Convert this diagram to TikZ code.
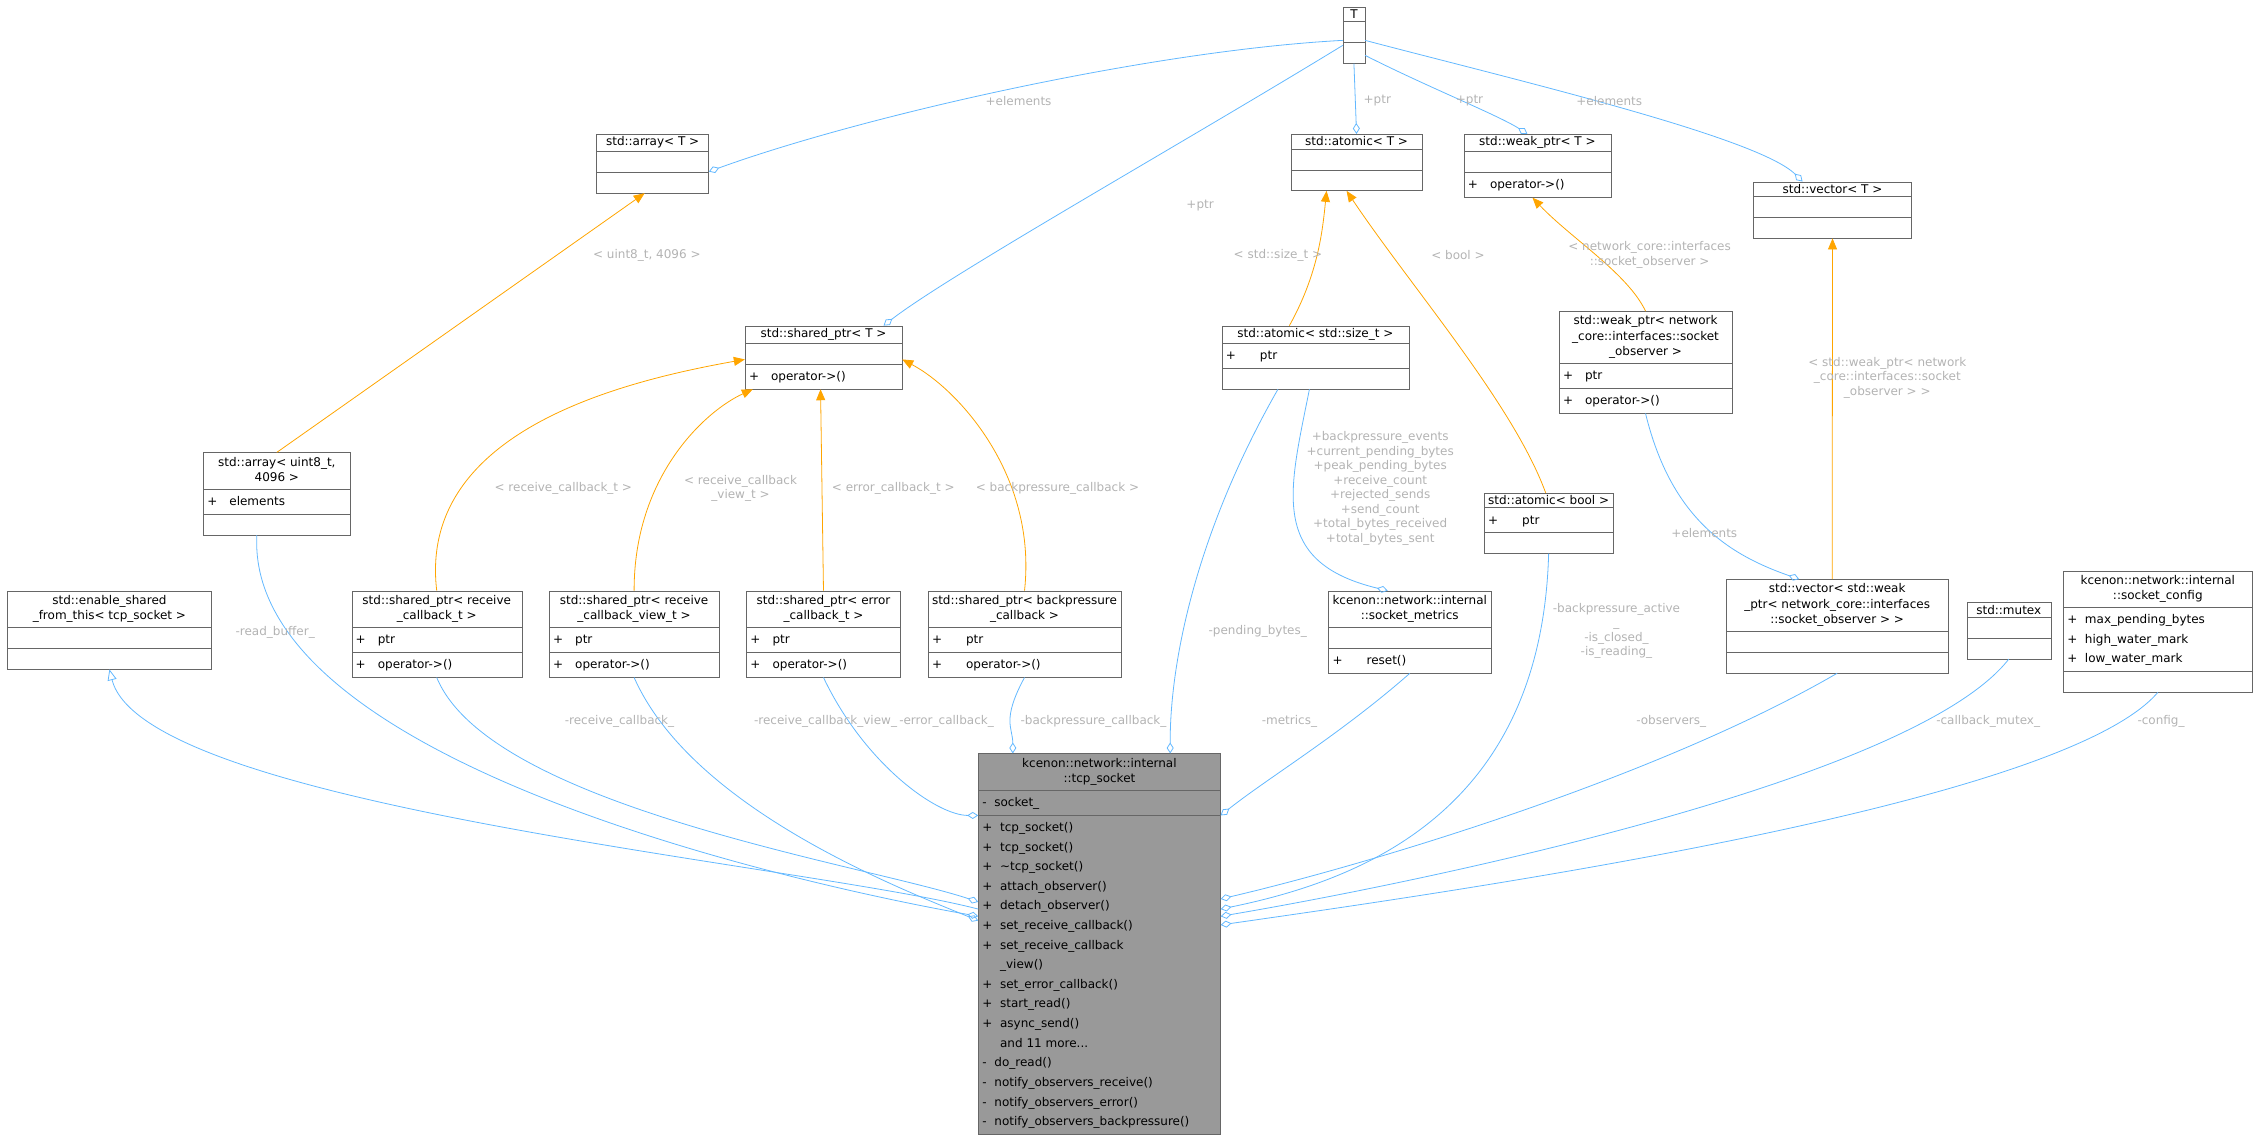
\documentclass[tikz,border=0pt]{standalone}
\usepackage{fontspec}
\setmainfont{DejaVu Sans}
\usetikzlibrary{shapes.multipart,arrows.meta,calc}

\definecolor{edgeblue}{HTML}{63B8FF}
\definecolor{boxline}{HTML}{666666}
\definecolor{lblgray}{HTML}{B3B3B3}
\definecolor{mainfill}{HTML}{999999}
\definecolor{tmplorange}{HTML}{FFA500}

% header and member rows of a class box
\newcommand{\hd}[1]{\begin{tabular}{@{}c@{}}#1\end{tabular}}
\newcommand{\mb}[1]{{\renewcommand\arraystretch{1.265}\begin{tabular}{@{}l@{}}#1\end{tabular}}}

\tikzset{
  cls/.style={draw=boxline, fill=white, rectangle split, rectangle split parts=3,
    rectangle split part align={center,left,left}, anchor=north west,
    inner xsep=4pt, inner ysep=2.5pt, font=\fontsize{12}{15.5}\selectfont},
  mainbox/.style={cls, fill=mainfill},
  lbl/.style={text=lblgray, align=center, font=\fontsize{12}{14.5}\selectfont},
  usage/.style={draw=edgeblue, thick, -{Diamond[open, length=11pt, width=7pt]}},
  inherit/.style={draw=edgeblue, thick, {Triangle[open, length=11pt, width=9pt]}-},
  tmpl/.style={draw=tmplorange, thick, -{Triangle[length=11pt, width=9pt]}}
}

\begin{document}
\begin{tikzpicture}[x=1.4407pt, y=-1.4407pt]
\useasboundingbox (0,0) rectangle (1568,788);

% templates
\node[cls, minimum width=22pt] (T) at (932,5) {T \nodepart{two}\strut \nodepart{three}\strut};
\node[cls, minimum width=112pt] (arr) at (414,93) {std::array< T > \nodepart{two}\strut \nodepart{three}\strut};
\node[cls, minimum width=131pt] (atomT) at (896,93) {std::atomic< T > \nodepart{two}\strut \nodepart{three}\strut};
\node[cls, minimum width=147pt] (weakT) at (1016,93) {std::weak\_ptr< T > \nodepart{two}\strut \nodepart{three}\mb{+\quad operator->()}};
\node[cls, minimum width=158pt] (vecT) at (1217,126) {std::vector< T > \nodepart{two}\strut \nodepart{three}\strut};
\node[cls, minimum width=157pt] (shT) at (517,226) {std::shared\_ptr< T > \nodepart{two}\strut \nodepart{three}\mb{+\quad operator->()}};

% instances
\node[cls, minimum width=187pt] (atomSz) at (848,226) {std::atomic< std::size\_t > \nodepart{two}\mb{+\qquad ptr} \nodepart{three}\strut};
\node[cls, minimum width=173pt] (weakObs) at (1082,216) {\hd{std::weak\_ptr< network\\\_core::interfaces::socket\\\_observer >} \nodepart{two}\mb{+\quad ptr} \nodepart{three}\mb{+\quad operator->()}};
\node[cls, minimum width=147pt] (arr4096) at (141,314) {\hd{std::array< uint8\_t,\\4096 >} \nodepart{two}\mb{+\quad elements} \nodepart{three}\strut};
\node[cls, minimum width=125pt] (atomBool) at (1030,342) {std::atomic< bool > \nodepart{two}\mb{+\qquad ptr} \nodepart{three}\strut};
\node[cls, minimum width=204pt] (esft) at (5,410) {\hd{std::enable\_shared\\\_from\_this< tcp\_socket >} \nodepart{two}\strut \nodepart{three}\strut};
\node[cls, minimum width=170pt] (shRecv) at (244,410) {\hd{std::shared\_ptr< receive\\\_callback\_t >} \nodepart{two}\mb{+\quad ptr} \nodepart{three}\mb{+\quad operator->()}};
\node[cls, minimum width=170pt] (shRecvView) at (381,410) {\hd{std::shared\_ptr< receive\\\_callback\_view\_t >} \nodepart{two}\mb{+\quad ptr} \nodepart{three}\mb{+\quad operator->()}};
\node[cls, minimum width=154pt] (shErr) at (518,410) {\hd{std::shared\_ptr< error\\\_callback\_t >} \nodepart{two}\mb{+\quad ptr} \nodepart{three}\mb{+\quad operator->()}};
\node[cls, minimum width=176pt] (shBp) at (644,410) {\hd{std::shared\_ptr< backpressure\\\_callback >} \nodepart{two}\mb{+\qquad ptr} \nodepart{three}\mb{+\qquad operator->()}};
\node[cls, minimum width=140pt] (metrics) at (922,410) {\hd{kcenon::network::internal\\::socket\_metrics} \nodepart{two}\strut \nodepart{three}\mb{+\qquad reset()}};
\node[cls, minimum width=222pt] (vecObs) at (1198,402) {\hd{std::vector< std::weak\\\_ptr< network\_core::interfaces\\::socket\_observer > >} \nodepart{two}\strut \nodepart{three}\strut};
\node[cls, minimum width=84pt] (mutex) at (1365,418) {std::mutex \nodepart{two}\strut \nodepart{three}\strut};
\node[cls, minimum width=189pt] (config) at (1432,396) {\hd{kcenon::network::internal\\::socket\_config} \nodepart{two}\mb{+\ \ max\_pending\_bytes\\+\ \ high\_water\_mark\\+\ \ low\_water\_mark} \nodepart{three}\strut};

% main class
\node[mainbox, minimum width=242pt] (sock) at (679,523) {\hd{kcenon::network::internal\\::tcp\_socket}
  \nodepart{two}\mb{-\ \ socket\_}
  \nodepart{three}\mb{+\ \ tcp\_socket()\\+\ \ tcp\_socket()\\+\ \ \textasciitilde tcp\_socket()\\+\ \ attach\_observer()\\+\ \ detach\_observer()\\+\ \ set\_receive\_callback()\\+\ \ set\_receive\_callback\\\phantom{+\ \ }\_view()\\+\ \ set\_error\_callback()\\+\ \ start\_read()\\+\ \ async\_send()\\\phantom{+\ \ }and 11 more...\\-\ \ do\_read()\\-\ \ notify\_observers\_receive()\\-\ \ notify\_observers\_error()\\-\ \ notify\_observers\_backpressure()}};

% T members
\draw[usage] ([yshift=-5pt]T.west) .. controls (800,35) and (600,80) .. ([yshift=-8pt]arr.east);
\draw[usage] ([yshift=-10pt]T.west) .. controls (820,100) and (660,190) .. ([xshift=60pt]shT.north);
\draw[usage] (T.south) -- (atomT.north);
\draw[usage] ([yshift=-20pt]T.east) .. controls (990,60) and (1040,80) .. ([xshift=-10pt]weakT.north);
\draw[usage] ([yshift=-5pt]T.east) .. controls (1050,55) and (1220,95) .. ([xshift=-30pt]vecT.north);
\node[lbl] (lElem1) at (707,70) {+elements};
\node[lbl] (lPtr1) at (833,143) {+ptr};
\node[lbl] (lPtr2) at (956,70) {+ptr};
\node[lbl] (lPtr3) at (1020,70) {+ptr};
\node[lbl] (lElem2) at (1117,70) {+elements};

% template instances
\draw[tmpl] (arr4096.north) -- ([xshift=-8pt]arr.south);
\draw[tmpl] ([xshift=-26pt]atomSz.north) .. controls (915,190) and (918,160) .. ([xshift=-30pt]atomT.south);
\draw[tmpl] ([xshift=-3pt]atomBool.north) .. controls (1050,280) and (980,200) .. ([xshift=-10pt]atomT.south);
\draw[tmpl] (weakObs.north) .. controls (1130,190) and (1090,165) .. ([xshift=-5pt]weakT.south);
\draw[tmpl] ([xshift=-5pt]vecObs.north) -- (vecT.south);
\draw[tmpl] (shRecv.north) .. controls (290,300) and (430,265) .. ([yshift=-2pt]shT.west);
\draw[tmpl] (shRecvView.north) .. controls (440,330) and (490,285) .. ([xshift=8pt]shT.south west);
\draw[tmpl] (shErr.north) -- ([xshift=-3pt]shT.south);
\draw[tmpl] (shBp.north) .. controls (720,330) and (665,270) .. ([yshift=-2pt]shT.east);
\node[lbl] (lU8) at (449,177) {< uint8\_t, 4096 >};
\node[lbl] (lSz) at (887,177) {< std::size\_t >};
\node[lbl] (lBool) at (1012,177) {< bool >};
\node[lbl] (lObs) at (1145,177) {< network\_core::interfaces\\::socket\_observer >};
\node[lbl] (lVec) at (1310,262) {< std::weak\_ptr< network\\\_core::interfaces::socket\\\_observer > >};
\node[lbl] (lRecv) at (391,339) {< receive\_callback\_t >};
\node[lbl] (lRecvV) at (514,339) {< receive\_callback\\\_view\_t >};
\node[lbl] (lErr) at (620,339) {< error\_callback\_t >};
\node[lbl] (lBp) at (734,339) {< backpressure\_callback >};

% other members
\draw[usage] ([xshift=-6pt]atomSz.south) .. controls (895,340) and (880,390) .. ([xshift=-22pt]metrics.north);
\draw[usage] (weakObs.south) .. controls (1160,360) and (1200,385) .. ([xshift=-38pt]vecObs.north);
\node[lbl] (lMet) at (958,339) {+backpressure\_events\\+current\_pending\_bytes\\+peak\_pending\_bytes\\+receive\_count\\+rejected\_sends\\+send\_count\\+total\_bytes\_received\\+total\_bytes\_sent};
\node[lbl] (lElem3) at (1183,370) {+elements};

% tcp_socket
\draw[inherit] (esft.south) .. controls (100,560) and (560,600) .. ([yshift=-108pt*1.4407]sock.north west);
\draw[usage] ([xshift=-20pt]arr4096.south) .. controls (170,530) and (560,615) .. ([yshift=-113pt*1.4407]sock.north west);
\draw[usage] (shRecv.south) .. controls (340,560) and (600,600) .. ([yshift=-103pt*1.4407]sock.north west);
\draw[usage] (shRecvView.south) .. controls (480,560) and (620,615) .. ([yshift=-116pt*1.4407]sock.north west);
\draw[usage] (shErr.south) .. controls (600,530) and (650,566) .. ([yshift=-43pt*1.4407]sock.north west);
\draw[usage] (shBp.south) .. controls (695,500) and (703,505) .. ([xshift=24pt*1.4407]sock.north west);
\draw[usage] ([xshift=-26pt*1.4407]atomSz.south) .. controls (830,370) and (812,460) .. ([xshift=-35pt*1.4407]sock.north east);
\draw[usage] (metrics.south) .. controls (930,510) and (880,540) .. ([yshift=-43pt*1.4407]sock.north east);
\draw[usage] (atomBool.south) .. controls (1070,560) and (950,610) .. ([yshift=-108pt*1.4407]sock.north east);
\draw[usage] (vecObs.south) .. controls (1150,540) and (950,600) .. ([yshift=-101pt*1.4407]sock.north east);
\draw[usage] (mutex.south) .. controls (1330,540) and (1000,610) .. ([yshift=-113pt*1.4407]sock.north east);
\draw[usage] (config.south) .. controls (1430,560) and (1000,620) .. ([yshift=-119pt*1.4407]sock.north east);
\node[lbl] (lRead) at (191,439) {-read\_buffer\_};
\node[lbl] (lRecvC) at (430,501) {-receive\_callback\_};
\node[lbl] (lRecvVC) at (573,501) {-receive\_callback\_view\_};
\node[lbl] (lErrC) at (657,501) {-error\_callback\_};
\node[lbl] (lBpC) at (759,501) {-backpressure\_callback\_};
\node[lbl] (lPend) at (873,438) {-pending\_bytes\_};
\node[lbl] (lMetC) at (895,501) {-metrics\_};
\node[lbl] (lFlags) at (1122,438) {-backpressure\_active\\\_\\-is\_closed\_\\-is\_reading\_};
\node[lbl] (lObsC) at (1160,501) {-observers\_};
\node[lbl] (lMut) at (1380,501) {-callback\_mutex\_};
\node[lbl] (lCfg) at (1500,501) {-config\_};

\end{tikzpicture}
\end{document}
